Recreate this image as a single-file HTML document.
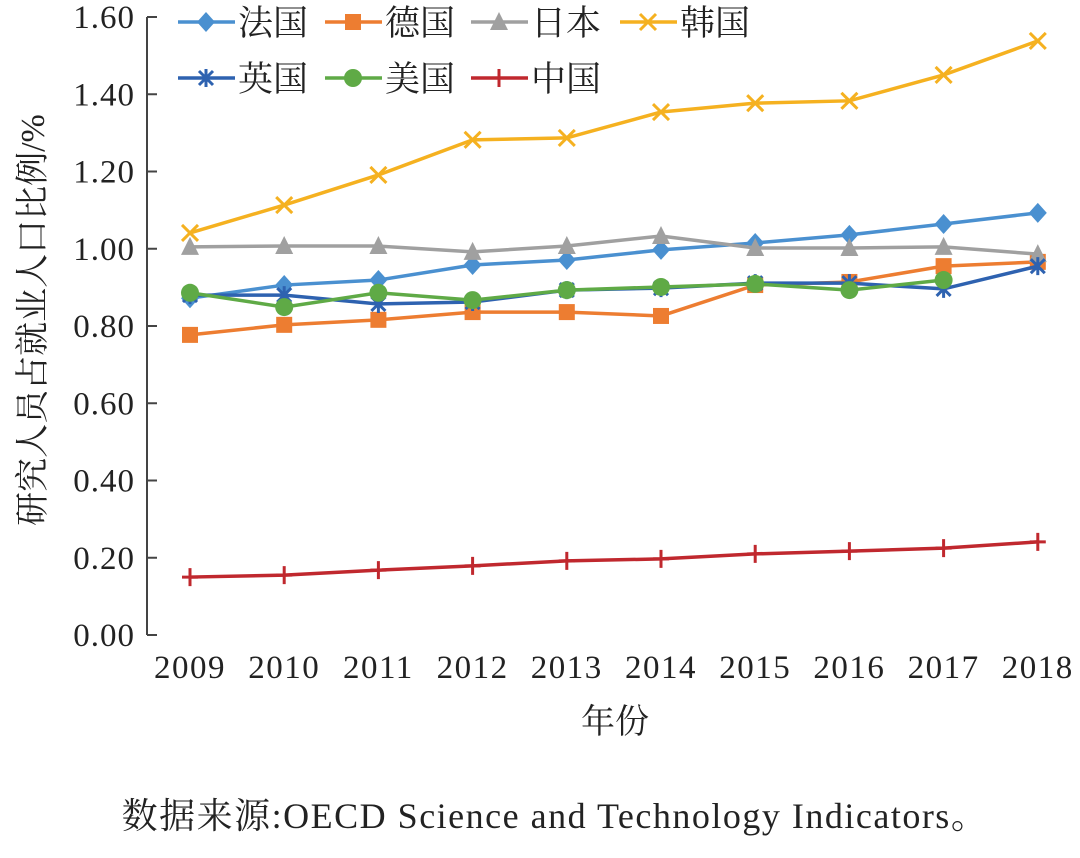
<!DOCTYPE html>
<html><head><meta charset="utf-8"><style>
html,body{margin:0;padding:0;background:#fff;}
svg{display:block;}
text{font-family:"Liberation Serif","Noto Serif CJK SC",serif;fill:#222;}
.cj{font-family:"Liberation Serif","Noto Serif CJK SC",serif;}
</style></head><body>
<svg id="chart" width="1080" height="858" xmlns="http://www.w3.org/2000/svg">
<g id="axes"></g>
<g id="series"></g>
<g id="legend"></g>
<text x="615" y="733" text-anchor="middle" font-size="34" class="cj">年份</text>
<text transform="translate(44,320) rotate(-90)" text-anchor="middle" font-size="34" class="cj">研究人员占就业人口比例/%</text>
<text x="555" y="828" text-anchor="middle" font-size="36" letter-spacing="1.5" class="cj">数据来源:OECD Science and Technology Indicators。</text>
</svg>
<script>
const years=["2009","2010","2011","2012","2013","2014","2015","2016","2017","2018"];
const yTicks=[0,0.2,0.4,0.6,0.8,1.0,1.2,1.4,1.6];
const france=[0.872,0.906,0.919,0.958,0.971,0.997,1.015,1.036,1.064,1.093];
const germany=[0.777,0.803,0.816,0.836,0.836,0.826,0.906,0.914,0.955,0.966];
const japan=[1.005,1.007,1.007,0.992,1.007,1.033,1.002,1.002,1.005,0.986];
const korea=[1.041,1.113,1.191,1.282,1.287,1.354,1.377,1.383,1.450,1.538];
const uk=[0.880,0.880,0.857,0.862,0.893,0.898,0.911,0.911,0.896,0.955];
const usa=[0.886,0.849,0.886,0.867,0.893,0.901,0.909,0.893,0.919,null];
const china=[0.150,0.155,0.168,0.179,0.192,0.197,0.210,0.217,0.225,0.241];
const NS="http://www.w3.org/2000/svg";
const X0=190,DX=94.2,Y0=635,PX=386.25;
const xs=i=>X0+i*DX, ys=v=>Y0-v*PX;
function mk(tag,attrs,parent){const e=document.createElementNS(NS,tag);for(const k in attrs)e.setAttribute(k,attrs[k]);parent.appendChild(e);return e;}
const axes=document.getElementById('axes');
let ax=mk('line',{x1:147,y1:ys(1.6),x2:147,y2:Y0,stroke:'#444','stroke-width':2},axes);


yTicks.forEach(v=>{
 const t=mk('line',{x1:147,x2:157,y1:ys(v),y2:ys(v),stroke:'#444','stroke-width':2},axes);
 
 
 const l=mk('text',{x:135,y:ys(v)+11,'text-anchor':'end','font-size':33,'letter-spacing':1},axes);
 l.textContent=v.toFixed(2);
 
 
});
years.forEach((y,i)=>{
 const l=mk('text',{x:xs(i),y:678,'text-anchor':'middle','font-size':33,'letter-spacing':1.5},axes);
 l.textContent=y;
 
 
});
function marker(type,x,y,c,g){
 let e;
 if(type==='diamond')e=mk('path',{d:`M${x} ${y-10}L${x+9} ${y}L${x} ${y+10}L${x-9} ${y}Z`,fill:c},g);
 else if(type==='square')e=mk('rect',{x:x-8,y:y-8,width:16,height:16,fill:c},g);
 else if(type==='triangle')e=mk('path',{d:`M${x} ${y-10}L${x+9} ${y+8}L${x-9} ${y+8}Z`,fill:c},g);
 else if(type==='x')e=mk('path',{d:`M${x-8} ${y-8}L${x+8} ${y+8}M${x+8} ${y-8}L${x-8} ${y+8}`,stroke:c,'stroke-width':3,fill:'none'},g);
 else if(type==='star')e=mk('path',{d:`M${x-7} ${y-7}L${x+7} ${y+7}M${x+7} ${y-7}L${x-7} ${y+7}M${x} ${y-9}L${x} ${y+9}`,stroke:c,'stroke-width':3,fill:'none'},g);
 else if(type==='circle')e=mk('circle',{cx:x,cy:y,r:9,fill:c},g);
 else if(type==='plus')e=mk('path',{d:`M${x-8} ${y}L${x+8} ${y}M${x} ${y-9}L${x} ${y+9}`,stroke:c,'stroke-width':3,fill:'none'},g);
 
 
}
const defs=[
 {n:'法国',id:'france',d:france,c:'#4a90d0',m:'diamond',lx:178,ly:22},
 {n:'德国',id:'germany',d:germany,c:'#ed7d31',m:'square',lx:325,ly:22},
 {n:'日本',id:'japan',d:japan,c:'#a0a0a0',m:'triangle',lx:471,ly:22},
 {n:'韩国',id:'korea',d:korea,c:'#f5b120',m:'x',lx:620,ly:22},
 {n:'英国',id:'uk',d:uk,c:'#2e62b0',m:'star',lx:178,ly:78},
 {n:'美国',id:'usa',d:usa,c:'#5faa46',m:'circle',lx:325,ly:78},
 {n:'中国',id:'china',d:china,c:'#c0282e',m:'plus',lx:471,ly:78}
];
const sg=document.getElementById('series'),lg=document.getElementById('legend');
defs.forEach(s=>{
 const g=mk('g',{},sg);
 
 
 const pts=[];s.d.forEach((v,i)=>{if(v!=null)pts.push([xs(i),ys(v)]);});
 const p=mk('polyline',{points:pts.map(q=>q.join(',')).join(' '),fill:'none',stroke:s.c,'stroke-width':3.5},g);
 
 
 pts.forEach(q=>marker(s.m,q[0],q[1],s.c,g));
 const e=mk('g',{},lg);
 
 
 mk('line',{x1:s.lx,x2:s.lx+57,y1:s.ly,y2:s.ly,stroke:s.c,'stroke-width':3.5},e);
 marker(s.m,s.lx+28,s.ly,s.c,e);
 const t=mk('text',{x:s.lx+60,y:s.ly+13,'font-size':35,class:'cj'},e);
 t.textContent=s.n;
});
</script>
</body></html>
